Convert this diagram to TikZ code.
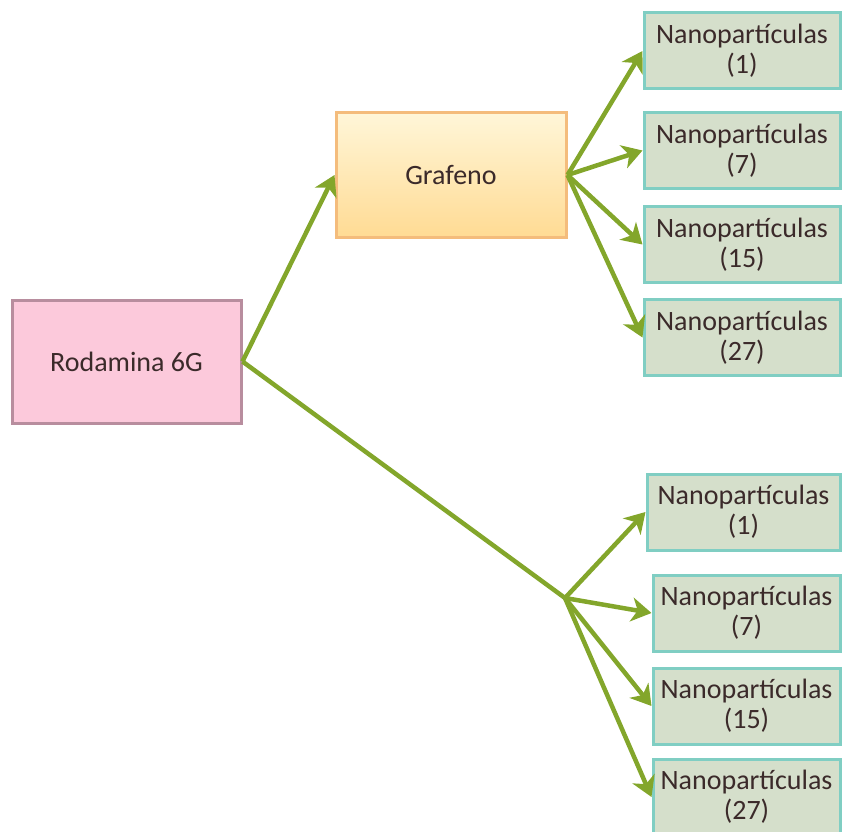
\documentclass[tikz,border=0pt]{standalone}
\usepackage{fontspec}
\setmainfont{Carlito}
\usetikzlibrary{arrows.meta}
\definecolor{rodfill}{HTML}{FCC9DB}
\definecolor{rodline}{HTML}{B88D9E}
\definecolor{grafill}{HTML}{FFDB94}
\definecolor{grafilltop}{HTML}{FFF6D8}
\definecolor{graline}{HTML}{F4BC7C}
\definecolor{nanofill}{HTML}{D5DFCB}
\definecolor{nanoline}{HTML}{80CEC3}
\definecolor{link}{HTML}{83A62B}
\definecolor{txt}{HTML}{3B2A2A}
\tikzset{
    box/.style={draw, line width=3pt, inner sep=0pt, align=center, text=txt,
                font=\fontsize{28}{30}\selectfont},
    nano/.style={box, fill=nanofill, draw=nanoline, minimum height=76pt},
    link/.style={draw=link, line width=4.5pt,
                 -{Stealth[length=20pt, width=24pt, inset=6pt]}}
}
\begin{document}
\begin{tikzpicture}[x=1pt, y=-1pt]
    \useasboundingbox (0,0) rectangle (844,832);

    % Source and first stage
    \node[box, fill=rodfill, draw=rodline, minimum width=229pt, minimum height=123pt]
        (rodamina) at (126.5,361.5) {Rodamina 6G};
    \node[box, top color=grafilltop, bottom color=grafill, draw=graline,
          minimum width=230pt, minimum height=124pt]
        (grafeno) at (451,175) {Grafeno};
    \coordinate (hub) at (565,598);

    % Nanoparticle boxes, upper branch
    \foreach \n/\y in {1/51, 7/150.5, 15/244.5, 27/337.5}
        \node[nano, minimum width=196pt] (upper\n) at (742,\y) {Nanopartículas\\(\n)};

    % Nanoparticle boxes, lower branch
    \node[nano, minimum width=193pt] (lower1) at (743.5,512) {Nanopartículas\\(1)};
    \foreach \n/\y in {7/613, 15/706, 27/797}
        \node[nano, minimum width=187pt] (lower\n) at (746.5,\y) {Nanopartículas\\(\n)};

    % Connectors
    \draw[link] (rodamina.east) -- (grafeno.west);
    \draw[draw=link, line width=4.5pt] (rodamina.east) -- (hub);
    \foreach \n in {1,7,15,27} {
        \draw[link] (grafeno.east) -- (upper\n.west);
        \draw[link] (hub) -- (lower\n.west);
    }
\end{tikzpicture}
\end{document}
